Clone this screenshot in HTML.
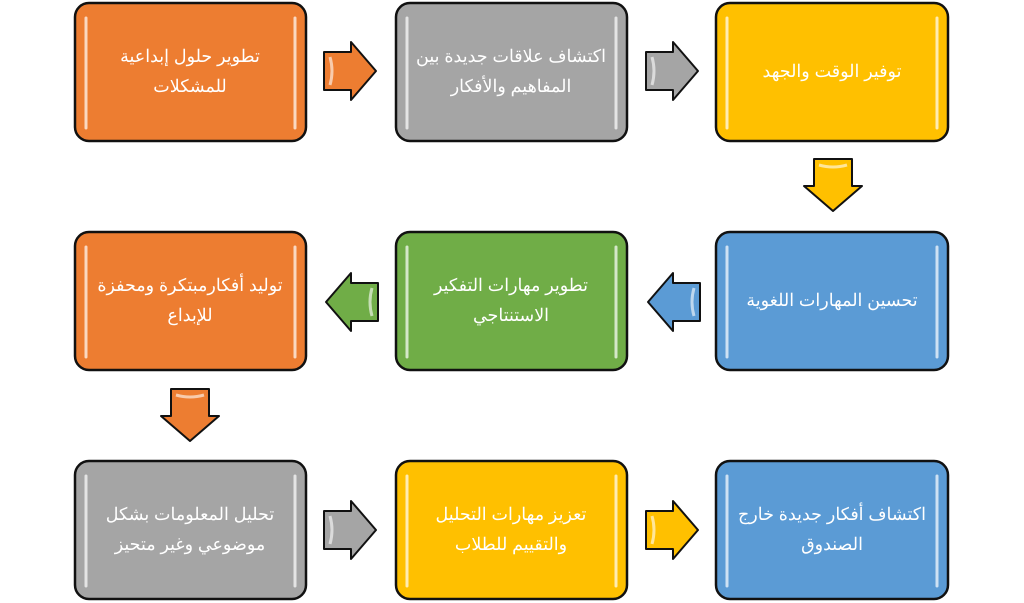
<!DOCTYPE html>
<html><head><meta charset="utf-8"><style>
html,body{margin:0;padding:0;background:#fff;width:1024px;height:603px;overflow:hidden}
text{font-family:"Liberation Sans","Noto Sans CJK SC",sans-serif;font-size:17.5px;fill:#fff;text-anchor:middle}
</style></head><body>
<svg width="1024" height="603" xmlns="http://www.w3.org/2000/svg">
<defs>
<g id="ra"><path d="M0,-19 L27,-19 L27,-29 L52,0 L27,29 L27,19 L0,19 Z" stroke="#111" stroke-width="2" stroke-linejoin="round"/>
<path d="M6,-14 q4,14 0,28" stroke="#fff" stroke-opacity=".6" stroke-width="3" fill="none"/></g>
</defs>
<g stroke="#111" stroke-width="2.5">
<rect x="75" y="3" width="231" height="138" rx="14" fill="#ED7D31"/>
<rect x="396" y="3" width="231" height="138" rx="14" fill="#A5A5A5"/>
<rect x="716" y="3" width="232" height="138" rx="14" fill="#FFC000"/>
<rect x="75" y="232" width="231" height="138" rx="14" fill="#ED7D31"/>
<rect x="396" y="232" width="231" height="138" rx="14" fill="#70AD47"/>
<rect x="716" y="232" width="232" height="138" rx="14" fill="#5B9BD5"/>
<rect x="75" y="461" width="231" height="138" rx="14" fill="#A5A5A5"/>
<rect x="396" y="461" width="231" height="138" rx="14" fill="#FFC000"/>
<rect x="716" y="461" width="232" height="138" rx="14" fill="#5B9BD5"/>
</g>
<g stroke="#fff" stroke-opacity=".7" stroke-width="3" stroke-linecap="round">
<line x1="86" y1="18" x2="86" y2="128"/><line x1="295" y1="18" x2="295" y2="128"/>
<line x1="407" y1="18" x2="407" y2="128"/><line x1="616" y1="18" x2="616" y2="128"/>
<line x1="727" y1="18" x2="727" y2="128"/><line x1="937" y1="18" x2="937" y2="128"/>
<line x1="86" y1="247" x2="86" y2="357"/><line x1="295" y1="247" x2="295" y2="357"/>
<line x1="407" y1="247" x2="407" y2="357"/><line x1="616" y1="247" x2="616" y2="357"/>
<line x1="727" y1="247" x2="727" y2="357"/><line x1="937" y1="247" x2="937" y2="357"/>
<line x1="86" y1="476" x2="86" y2="586"/><line x1="295" y1="476" x2="295" y2="586"/>
<line x1="407" y1="476" x2="407" y2="586"/><line x1="616" y1="476" x2="616" y2="586"/>
<line x1="727" y1="476" x2="727" y2="586"/><line x1="937" y1="476" x2="937" y2="586"/>
</g>
<use href="#ra" fill="#ED7D31" transform="translate(324,71)"/>
<use href="#ra" fill="#A5A5A5" transform="translate(646,71)"/>
<use href="#ra" fill="#FFC000" transform="translate(833,159) rotate(90)"/>
<use href="#ra" fill="#5B9BD5" transform="translate(700,302) rotate(180)"/>
<use href="#ra" fill="#70AD47" transform="translate(378,302) rotate(180)"/>
<use href="#ra" fill="#ED7D31" transform="translate(190,389) rotate(90)"/>
<use href="#ra" fill="#A5A5A5" transform="translate(324,530)"/>
<use href="#ra" fill="#FFC000" transform="translate(646,530)"/>
<text x="190" y="62">تطوير حلول إبداعية</text><text x="190" y="92">للمشكلات</text>
<text x="511" y="62">اكتشاف علاقات جديدة بين</text><text x="511" y="92">المفاهيم والأفكار</text>
<text x="832" y="77">توفير الوقت والجهد</text>
<text x="190" y="291">توليد أفكارمبتكرة ومحفزة</text><text x="190" y="321">للإبداع</text>
<text x="511" y="291">تطوير مهارات التفكير</text><text x="511" y="321">الاستنتاجي</text>
<text x="832" y="306">تحسين المهارات اللغوية</text>
<text x="190" y="520">تحليل المعلومات بشكل</text><text x="190" y="550">موضوعي وغير متحيز</text>
<text x="511" y="520">تعزيز مهارات التحليل</text><text x="511" y="550">والتقييم للطلاب</text>
<text x="832" y="520">اكتشاف أفكار جديدة خارج</text><text x="832" y="550">الصندوق</text>
</svg>
</body></html>
